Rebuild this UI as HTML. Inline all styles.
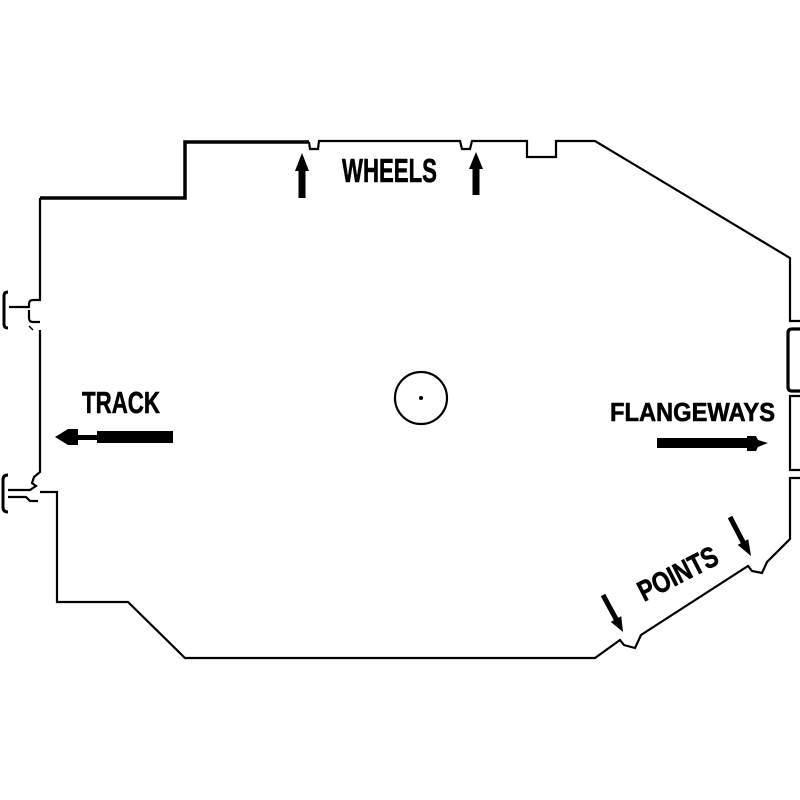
<!DOCTYPE html>
<html>
<head>
<meta charset="utf-8">
<style>
html,body{margin:0;padding:0;background:#fff;}
svg{display:block;}
text{font-family:"Liberation Sans Narrow","Liberation Sans",sans-serif;font-weight:bold;fill:#000;stroke:#000;stroke-width:0.6;}
</style>
</head>
<body>
<svg width="800" height="800" viewBox="0 0 800 800" xmlns="http://www.w3.org/2000/svg">
<rect width="800" height="800" fill="#fff"/>
<g fill="none" stroke="#000" stroke-linejoin="miter" stroke-linecap="butt">
  <path d="M40,198 H185 V142 H309" stroke-width="3.5"/>
  <path d="M309,142 L310,149 H318 L319,141 H460 L462,149 H470 L472,141 H527 V157 H556 V141 H595 L790,258 V321 H800" stroke-width="2.2"/>
  <path d="M800,329 H792 Q788,329 788,333 V387 Q788,391 792,391 H800" stroke-width="3.2"/>
  <path d="M800,396 H790 V470 H800" stroke-width="2.2"/>
  <path d="M800,478 H790 V539 L767,562 L762,573 L752,571 L748,566 L641,635 L635,648 L624,645 L620,640 L595,658 H185 L128,602 H57 V492 H40" stroke-width="2.2"/>
  <path d="M40,198 V300 H33 Q29,300 29,304 V307 H9" stroke-width="2.2"/>
  <path d="M29,310 V318 Q29,322 33,322 H40" stroke-width="2.2"/>
  <path d="M29,326 L33,330" stroke-width="1.5"/>
  <path d="M40,330 V472 L34,477 L32,483 L36,486 L30,490 H8" stroke-width="2.2"/>
  <path d="M8,497 H26 L30,501 H38" stroke-width="2.2"/>
  <path d="M8,292 Q4,292 4,296 V324 Q4,328 8,328" stroke-width="3"/>
  <path d="M8,475 Q3,475 3,480 V507 Q3,512 8,512" stroke-width="3"/>
  <circle cx="421" cy="398" r="26" stroke-width="2.2"/>
</g>
<circle cx="421" cy="398" r="2" fill="#000"/>

<g fill="#000">
  <polygon points="302,153 309,171 305.5,171 305.5,198 298.5,198 298.5,171 295,171"/>
  <polygon points="476,152 483,169 479.5,169 479.5,195 472.5,195 472.5,169 469,169"/>
  <polygon points="55,437 68,429 78,429 78,435 97,435 97,431 173,431 173,443 97,443 97,440 78,440 78,445 68,445"/>
  <polygon points="657,438 747,438 747,436 756,436 758,440 768,443 758,447 756,451 747,451 747,448 657,448"/>
  <polygon points="605.2,593.8 618.2,617.8 621.3,616.2 623,632 610.7,621.9 613.8,620.2 600.8,596.2"/>
  <polygon points="732.2,515.8 745.2,540.8 748.3,539.2 751,556 737.7,544.9 740.8,543.2 727.8,518.2"/>
</g>

<text x="342" y="182" font-size="33" textLength="95" lengthAdjust="spacingAndGlyphs">WHEELS</text>
<text x="82" y="413" font-size="31" textLength="78" lengthAdjust="spacingAndGlyphs">TRACK</text>
<text x="610" y="421" font-size="26" textLength="165" lengthAdjust="spacingAndGlyphs">FLANGEWAYS</text>
<text x="644" y="602" font-size="29" textLength="86" lengthAdjust="spacingAndGlyphs" transform="rotate(-27 644 602)">POINTS</text>
</svg>
</body>
</html>
